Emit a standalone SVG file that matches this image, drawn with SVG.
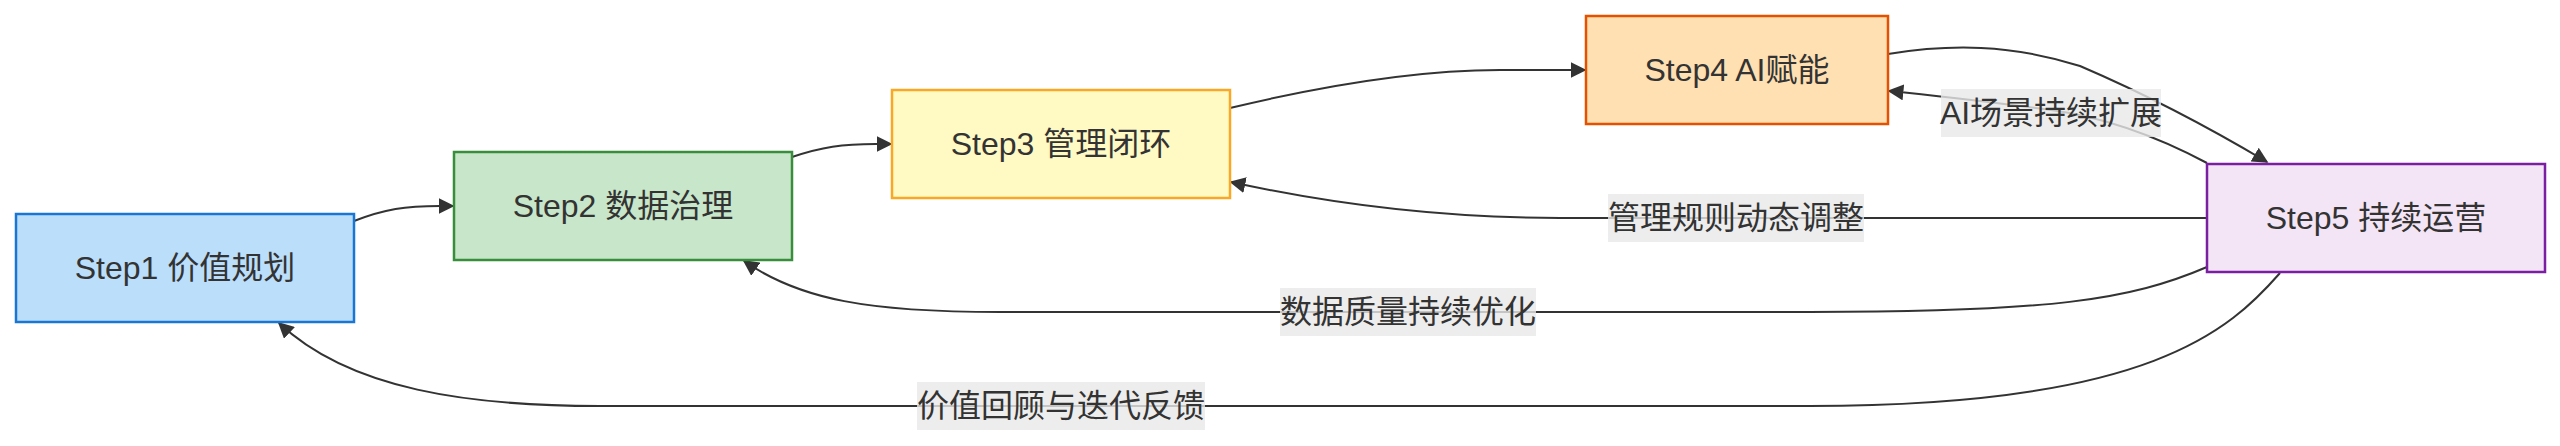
<svg xmlns="http://www.w3.org/2000/svg" width="2560" height="446" viewBox="0 0 2560 446">
<defs>
<marker id="arrow" viewBox="0 0 10 10" refX="9" refY="5" markerUnits="userSpaceOnUse" markerWidth="16" markerHeight="16" orient="auto">
<path d="M0,0 L10,5 L0,10 z" fill="#333333"/>
</marker>
<style>
.edge{fill:none;stroke:#333333;stroke-width:2;marker-end:url(#arrow);}
.node rect{stroke-width:2.5;}
.t{font-family:"Liberation Sans","Noto Sans CJK SC",sans-serif;font-size:32px;fill:#333333;text-anchor:middle;dominant-baseline:central;}
.lb{fill:rgba(232,232,232,0.8);}
</style>
</defs>
<rect width="2560" height="446" fill="#ffffff"/>
<g id="connectors">
<path class="edge" d="M354,221 C385,209 405,206 440,206 L453,206"/>
<path class="edge" d="M792,157 C822,147 842,144 876,144 L891,144"/>
<path class="edge" d="M1230,108 C1330,84 1420,70 1500,70 L1585,70"/>
<path class="edge" d="M1888,54 C1950,44 2010,44 2080,66 C2150,96 2210,128 2267,162"/>
<path class="edge" d="M2207,163 C2160,138 2110,118 2051,110 C1990,102 1940,96 1889,91"/>
<path class="edge" d="M2207,218 L1560,218 C1450,218 1340,206 1231,182"/>
<path class="edge" d="M2207,267 C2130,300 2050,312 1810,312 L1000,312 C870,312 800,300 744,261"/>
<path class="edge" d="M2280,273 C2230,330 2150,406 1810,406 L600,406 C470,406 350,390 279,323"/>
</g>
<g id="edge-labels">
<g id="label-ai"><rect class="lb" x="1941" y="89" width="220" height="48"/><text class="t" x="2051" y="113">AI场景持续扩展</text></g>
<g id="label-mgmt"><rect class="lb" x="1608" y="194" width="256" height="48"/><text class="t" x="1736" y="218">管理规则动态调整</text></g>
<g id="label-data"><rect class="lb" x="1280" y="288" width="256" height="48"/><text class="t" x="1408" y="312">数据质量持续优化</text></g>
<g id="label-value"><rect class="lb" x="917" y="382" width="288" height="48"/><text class="t" x="1061" y="406">价值回顾与迭代反馈</text></g>
</g>
<g id="step1" class="node"><rect x="16" y="214" width="338" height="108" fill="#bbdefb" stroke="#1976d2"/><text class="t" x="185" y="268">Step1 价值规划</text></g>
<g id="step2" class="node"><rect x="454" y="152" width="338" height="108" fill="#c8e6c9" stroke="#388e3c"/><text class="t" x="623" y="206">Step2 数据治理</text></g>
<g id="step3" class="node"><rect x="892" y="90" width="338" height="108" fill="#fff9c4" stroke="#f9a825"/><text class="t" x="1061" y="144">Step3 管理闭环</text></g>
<g id="step4" class="node"><rect x="1586" y="16" width="302" height="108" fill="#ffe0b2" stroke="#e65100"/><text class="t" x="1737" y="70">Step4 AI赋能</text></g>
<g id="step5" class="node"><rect x="2207" y="164" width="338" height="108" fill="#f3e5f5" stroke="#7b1fa2"/><text class="t" x="2376" y="218">Step5 持续运营</text></g>
</svg>
